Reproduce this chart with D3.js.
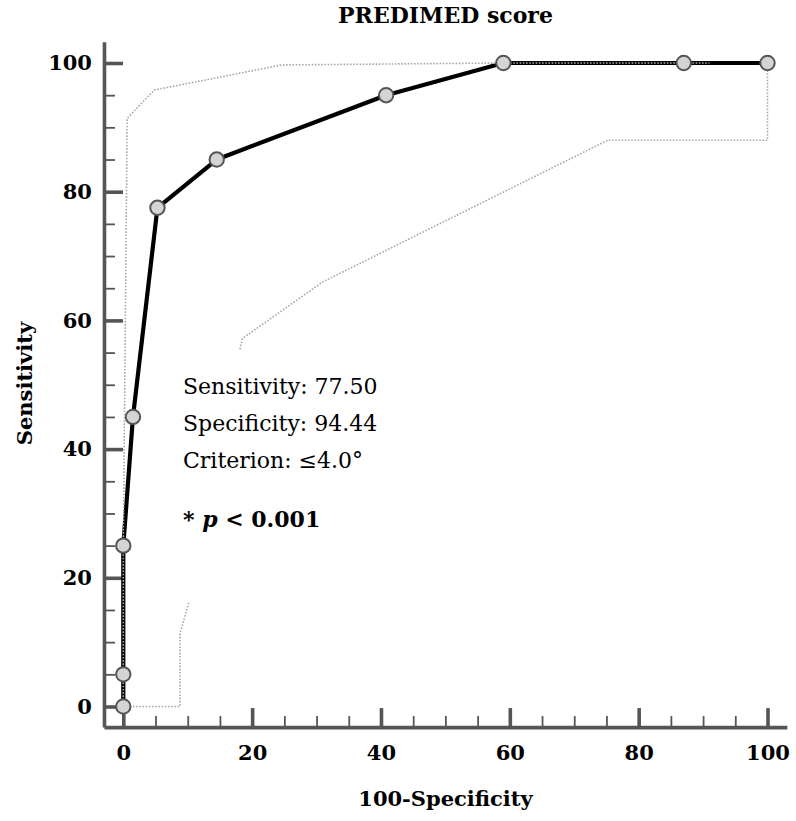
<!DOCTYPE html>
<html>
<head>
<meta charset="utf-8">
<script src="https://cdn.jsdelivr.net/npm/d3@7"></script>
<style>
  html, body { margin: 0; padding: 0; background: #fff; }
  svg { display: block; }
  text { font-family: "DejaVu Serif", "Liberation Serif", serif; fill: #000; }
</style>
</head>
<body>
<svg id="chart" width="796" height="821"></svg>
<script>
// ---- data ----
const fpr = [0, 0, 0, 1.5, 5.3, 14.5, 40.8, 59.0, 87.0, 100];          // 100-Specificity
const sens = [0, 5, 25, 45, 77.5, 85, 95, 100, 100, 100];              // Sensitivity
const upperX = [0, 0, 0.6, 4.8, 24.6, 59.0, 91.0];
const upperY = [0, 25, 91.4, 95.8, 99.7, 100, 100];
const lowerAX = [0, 8.8, 8.8, 10.2];
const lowerAY = [0, 0, 11.3, 16.3];
const lowerBX = [18.1, 18.5, 31, 75.2, 100, 100];
const lowerBY = [55.5, 57.2, 66, 88, 88, 98.9];
const majorTicks = [0, 20, 40, 60, 80, 100];
const minorTicks = [5, 10, 15, 25, 30, 35, 45, 50, 55, 65, 70, 75, 85, 90, 95];
const titleText = "PREDIMED score";
const xLabel = "100-Specificity";
const yLabel = "Sensitivity";
const annotLines = ["Sensitivity: 77.50", "Specificity: 94.44", "Criterion: \u22644.0\u00B0"];

// ---- layout ----
const svg = d3.select("#chart");
const x = d3.scaleLinear().domain([0, 100]).range([123.3, 767.5]);
const y = d3.scaleLinear().domain([0, 100]).range([706.5, 63]);
const xa = d3.scaleLinear().domain([-3, 103]).range([x(-3), x(103)]);
const ya = d3.scaleLinear().domain([-3.2, 103.3]).range([y(-3.2), y(103.3)]);
const axisColor = "#555555";
const xAxisY = y(-3.2);
const yAxisX = x(-3);

// minor ticks
const gxm = svg.append("g").attr("transform", `translate(0,${xAxisY})`)
  .call(d3.axisBottom(xa).tickValues(minorTicks).tickSizeInner(-11).tickSizeOuter(0).tickFormat(""));
const gym = svg.append("g").attr("transform", `translate(${yAxisX},0)`)
  .call(d3.axisLeft(ya).tickValues(minorTicks).tickSizeInner(-11).tickSizeOuter(0).tickFormat(""));
[gxm, gym].forEach(g => {
  g.select(".domain").remove();
  g.selectAll(".tick line").attr("stroke", axisColor).attr("stroke-width", 1.8);
});

// major ticks + axis lines
const gx = svg.append("g").attr("transform", `translate(0,${xAxisY})`)
  .call(d3.axisBottom(xa).tickValues(majorTicks).tickSizeInner(-19).tickSizeOuter(0).tickPadding(14));
const gy = svg.append("g").attr("transform", `translate(${yAxisX},0)`)
  .call(d3.axisLeft(ya).tickValues(majorTicks).tickSizeInner(-19).tickSizeOuter(0).tickPadding(12));
[gx, gy].forEach(g => {
  g.select(".domain").attr("stroke", axisColor).attr("stroke-width", 3.6);
  g.selectAll(".tick line").attr("stroke", axisColor).attr("stroke-width", 3.6);
  g.selectAll(".tick text")
    .style("font-family", '"DejaVu Serif", serif')
    .style("font-weight", "bold")
    .style("font-size", "21px")
    .attr("fill", "#000");
});
gx.selectAll(".tick text").attr("dy", "0.88em");

// ROC curve
const line = d3.line().x(d => x(d[0])).y(d => y(d[1]));
const curve = fpr.map((v, i) => [v, sens[i]]);
svg.append("path").datum(curve).attr("d", line)
  .attr("fill", "none").attr("stroke", "#000").attr("stroke-width", 4.2)
  .attr("stroke-linejoin", "round");

// confidence bounds (dotted)
const ciPaths = [
  upperX.map((v, i) => [v, upperY[i]]),
  lowerAX.map((v, i) => [v, lowerAY[i]]),
  lowerBX.map((v, i) => [v, lowerBY[i]])
];
svg.selectAll("path.ci").data(ciPaths).enter().append("path")
  .attr("class", "ci").attr("d", line)
  .attr("fill", "none").attr("stroke", "#a8a8a8").attr("stroke-width", 1.6)
  .attr("stroke-dasharray", "1.6 1.6");

// points
svg.selectAll("circle.pt").data(curve).enter().append("circle")
  .attr("class", "pt")
  .attr("cx", d => x(d[0])).attr("cy", d => y(d[1])).attr("r", 7.2)
  .attr("fill", "#d4d4d4").attr("stroke", "#555555").attr("stroke-width", 2);

// title & axis labels
svg.append("text").attr("x", 445.5).attr("y", 23).attr("text-anchor", "middle")
  .style("font-size", "22px").style("font-weight", "bold").text(titleText);
svg.append("text").attr("x", 445.5).attr("y", 806).attr("text-anchor", "middle")
  .style("font-size", "21px").style("font-weight", "bold").text(xLabel);
svg.append("text").attr("transform", "translate(32,383.5) rotate(-90)").attr("text-anchor", "middle")
  .style("font-size", "21px").style("font-weight", "bold").text(yLabel);

// annotation
const annotY = [394, 431, 468];
svg.selectAll("text.annot").data(annotLines).enter().append("text")
  .attr("class", "annot").attr("x", 183).attr("y", (d, i) => annotY[i])
  .style("font-size", "22px").text(d => d);
const pt = svg.append("text").attr("x", 183).attr("y", 527)
  .style("font-size", "22px").style("font-weight", "bold");
pt.append("tspan").text("* ");
pt.append("tspan").style("font-style", "italic").text("p");
pt.append("tspan").text(" < 0.001");
</script>
</body>
</html>
